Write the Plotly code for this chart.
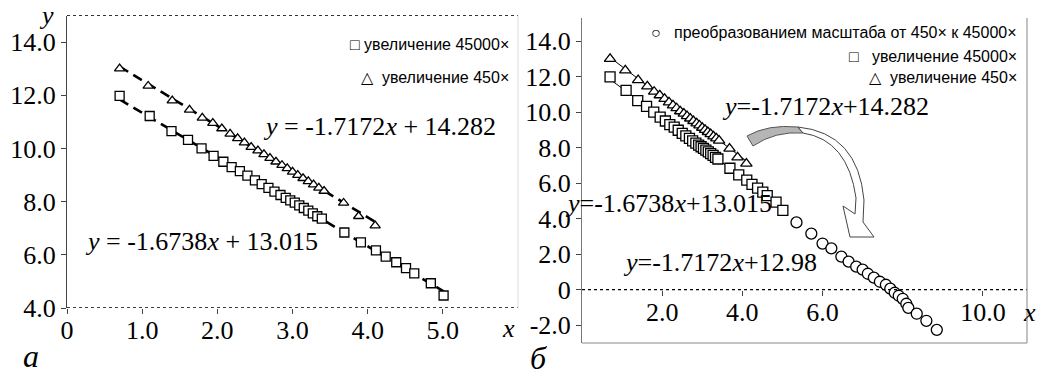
import plotly.graph_objects as go

# ---------------- data ----------------
# magnification 450x (triangles)
tri_x = [0.70, 1.08, 1.40, 1.63, 1.80, 1.94, 2.06, 2.17, 2.27, 2.36, 2.45, 2.54, 2.62, 2.70,
         2.78, 2.86, 2.93, 3.00, 3.07, 3.14, 3.21, 3.28, 3.35, 3.42, 3.68, 3.88, 4.10]
tri_y = [13.00, 12.35, 11.80, 11.45, 11.15, 10.95, 10.75, 10.55, 10.38, 10.22, 10.05, 9.92, 9.78, 9.64,
         9.50, 9.37, 9.25, 9.12, 9.00, 8.88, 8.76, 8.64, 8.52, 8.40, 7.95, 7.45, 7.10]

# magnification 45000x (squares)
sq_x = [0.70, 1.10, 1.39, 1.61, 1.79, 1.95, 2.08, 2.19, 2.30, 2.40, 2.50, 2.59, 2.68, 2.76, 2.84,
        2.91, 2.97, 3.03, 3.09, 3.15, 3.21, 3.27, 3.33, 3.39, 3.69, 3.91, 4.11, 4.24, 4.38, 4.51,
        4.62, 4.84, 5.01]
sq_y = [11.98, 11.22, 10.65, 10.32, 10.00, 9.72, 9.50, 9.30, 9.15, 8.98, 8.80, 8.66, 8.52, 8.38, 8.25,
        8.14, 8.05, 7.96, 7.86, 7.76, 7.66, 7.56, 7.45, 7.36, 6.84, 6.47, 6.17, 5.93, 5.72, 5.50,
        5.30, 4.93, 4.47]

# rescaled from 450x to 45000x (circles)
circ_x = [5.35, 5.72, 6.00, 6.22, 6.47, 6.65, 6.84, 7.00, 7.13, 7.28, 7.43, 7.58, 7.69, 7.80,
          7.90, 8.00, 8.09, 8.14, 8.35, 8.59, 8.85]
circ_y = [3.79, 3.16, 2.60, 2.33, 1.86, 1.58, 1.30, 1.13, 0.90, 0.68, 0.45, 0.28, 0.06, -0.17,
          -0.34, -0.51, -0.79, -1.02, -1.35, -1.75, -2.26]

# trend lines (slope, intercept) and their x spans
fit_tri = (-1.7172, 14.282)
fit_sq = (-1.6738, 13.015)
span_tri = [0.70, 4.10]
span_sq = [0.70, 5.01]

left_xticks = [0, 1, 2, 3, 4, 5]
left_xticktext = ["0", "1.0", "2.0", "3.0", "4.0", "5.0"]
left_yticks = [4, 6, 8, 10, 12, 14]
left_yticktext = ["4.0", "6.0", "8.0", "10.0", "12.0", "14.0"]
right_xticks = [2, 4, 6, 10]
right_xticktext = ["2.0", "4.0", "6.0", "10.0"]
right_yticks = [-2, 0, 2, 4, 6, 8, 10, 12, 14]
right_yticktext = ["-2.0", "0", "2.0", "4.0", "6.0", "8.0", "10.0", "12.0", "14.0"]

legend_sq = "увеличение 45000×"
legend_tri = "увеличение 450×"
legend_circ = "преобразованием масштаба от 450× к 45000×"

# ---------------- layout helpers ----------------
W, H = 1041, 376
def px(x):
    return x / W
def py(y):
    return 1 - y / H

SERIF = "Liberation Serif, 'Times New Roman', Times, serif"
SANS = "Liberation Sans, Arial, sans-serif"

L_DOM_X = [px(67), px(518)]
L_DOM_Y = [py(308), py(15.5)]
R_DOM_X = [px(582), px(1027)]
R_DOM_Y = [py(343), py(18)]
L_XR = [0, 6]
L_YR = [4, 15]
R_XR = [0, 11.1]
R_YR = [-3, 15.3]

fig = go.Figure()

def line_pts(fit, span):
    return span, [fit[0] * s + fit[1] for s in span]

dash_style = dict(color="black", width=2.6, dash="10px,6px")

# left panel trend lines
for fit, span in [(fit_tri, span_tri), (fit_sq, span_sq)]:
    lx, ly = line_pts(fit, span)
    fig.add_trace(go.Scatter(x=lx, y=ly, mode="lines", line=dash_style,
                             xaxis="x", yaxis="y", showlegend=False, hoverinfo="skip"))
# right panel thin trend lines
for fit, span in [(fit_tri, span_tri), (fit_sq, span_sq)]:
    lx, ly = line_pts(fit, span)
    fig.add_trace(go.Scatter(x=lx, y=ly, mode="lines", line=dict(color="black", width=1),
                             xaxis="x2", yaxis="y2", showlegend=False, hoverinfo="skip"))

def mk(symbol, size):
    return dict(symbol=symbol, size=size, color="white", line=dict(color="black", width=1.3))

for ax, s in [(("x", "y"), 9), (("x2", "y2"), 10)]:
    fig.add_trace(go.Scatter(x=sq_x, y=sq_y, mode="markers", marker=mk("square", s),
                             xaxis=ax[0], yaxis=ax[1], name=legend_sq, showlegend=False))
    fig.add_trace(go.Scatter(x=tri_x, y=tri_y, mode="markers", marker=mk("triangle-up", s),
                             xaxis=ax[0], yaxis=ax[1], name=legend_tri, showlegend=False))
fig.add_trace(go.Scatter(x=circ_x, y=circ_y, mode="markers", marker=mk("circle", 11),
                         xaxis="x2", yaxis="y2", name=legend_circ, showlegend=False))

tickfont = dict(family=SERIF, size=26, color="black")
common = dict(showgrid=False, zeroline=False, ticks="outside", ticklen=5, tickcolor="#444",
              tickfont=tickfont, fixedrange=True)

x2_pos = R_DOM_Y[0] + (0 - R_YR[0]) / (R_YR[1] - R_YR[0]) * (R_DOM_Y[1] - R_DOM_Y[0])

fig.update_layout(
    width=W, height=H, autosize=False,
    margin=dict(l=0, r=0, t=0, b=0, autoexpand=False),
    paper_bgcolor="white", plot_bgcolor="white",
    showlegend=False,
    xaxis=dict(domain=L_DOM_X, range=L_XR, tickvals=left_xticks, ticktext=left_xticktext,
               anchor="y", showline=False, ticklabelstandoff=-6, **common),
    yaxis=dict(domain=L_DOM_Y, range=L_YR, tickvals=left_yticks, ticktext=left_yticktext,
               anchor="x", showline=True, linecolor="#444", linewidth=1, **common),
    xaxis2=dict(domain=R_DOM_X, range=R_XR, tickvals=right_xticks, ticktext=right_xticktext,
                anchor="free", position=x2_pos, showline=False, ticklabelstandoff=-6, **common),
    yaxis2=dict(domain=R_DOM_Y, range=R_YR, tickvals=right_yticks, ticktext=right_yticktext,
                anchor="x2", showline=True, linecolor="#777", linewidth=1, **common),
)

shapes = []
# left panel borders
shapes.append(dict(type="line", xref="x domain", yref="y", x0=0, x1=1, y0=4, y1=4,
                   line=dict(color="black", width=1.5, dash="dot")))
shapes.append(dict(type="line", xref="x domain", yref="y domain", x0=0, x1=1, y0=1, y1=1,
                   line=dict(color="#333", width=1, dash="dot")))
shapes.append(dict(type="line", xref="x domain", yref="y domain", x0=1, x1=1, y0=0, y1=1,
                   line=dict(color="#ddd", width=1)))
# right panel borders / zero line
shapes.append(dict(type="line", xref="x2 domain", yref="y2", x0=0, x1=1, y0=0, y1=0,
                   line=dict(color="black", width=1.2, dash="dot")))
shapes.append(dict(type="line", xref="x2 domain", yref="y2 domain", x0=0, x1=1, y0=0, y1=0,
                   line=dict(color="#888", width=1.2)))
shapes.append(dict(type="line", xref="x2 domain", yref="y2 domain", x0=1, x1=1, y0=0, y1=1,
                   line=dict(color="#999", width=1.2)))

# curved arrow (decoration)
def path(pts_cmds):
    out = []
    for c in pts_cmds:
        if isinstance(c, str):
            out.append(c)
        else:
            out.append(f"{px(c[0]):.5f},{py(c[1]):.5f}")
    return " ".join(out)

band = path(["M", (747, 136), "Q", (768, 124), (798, 127), "L", (803, 133),
             "Q", (775, 131), (753, 146), "Z"])
arrow = path(["M", (798, 127), "Q", (858, 133), (864, 200), "L", (863, 222),
              "L", (874, 237), "L", (850, 237), "L", (843, 206), "L", (855, 214),
              "L", (856, 198), "Q", (848, 140), (803, 133), "Z"])
shapes.append(dict(type="path", xref="paper", yref="paper", path=band,
                   fillcolor="#b5b5b5", line=dict(color="#555", width=1)))
shapes.append(dict(type="path", xref="paper", yref="paper", path=arrow,
                   fillcolor="white", line=dict(color="#444", width=1)))
fig.update_layout(shapes=shapes)

ann = []
def text(x, y, s, size, family=SERIF, xanchor="center", yanchor="middle"):
    ann.append(dict(xref="paper", yref="paper", x=px(x), y=py(y), text=s, showarrow=False,
                    xanchor=xanchor, yanchor=yanchor,
                    font=dict(family=family, size=size, color="black")))

# axis letters & panel labels
text(46, 16, "<i>y</i>", 26)
text(508, 328, "<i>x</i>", 26)
text(1029, 312, "<i>x</i>", 26)
text(31, 356, "<i>а</i>", 32)
text(538, 358, "<i>б</i>", 32)

# equations
text(379, 127, "<i>y</i> = -1.7172<i>x</i> + 14.282", 26)
text(201, 242, "<i>y</i> = -1.6738<i>x</i> + 13.015", 26)
text(825, 107, "<i>y</i>=-1.7172<i>x</i>+14.282", 26)
text(668, 203, "<i>y</i>=-1.6738<i>x</i>+13.015", 26)
text(720, 262, "<i>y</i>=-1.7172<i>x</i>+12.98", 26)

# legends
text(511, 45, "□ " + legend_sq, 16, SANS, xanchor="right")
text(511, 78, "△  " + legend_tri, 16, SANS, xanchor="right")
text(1019, 32, "○   " + legend_circ, 16, SANS, xanchor="right")
text(1019, 56, "□   " + legend_sq, 16, SANS, xanchor="right")
text(1019, 78, "△  " + legend_tri, 16, SANS, xanchor="right")

fig.update_layout(annotations=ann)
fig.write_html("out.html", config={"displayModeBar": False},
               post_script="document.body.style.margin='0';document.body.style.overflow='hidden';")
